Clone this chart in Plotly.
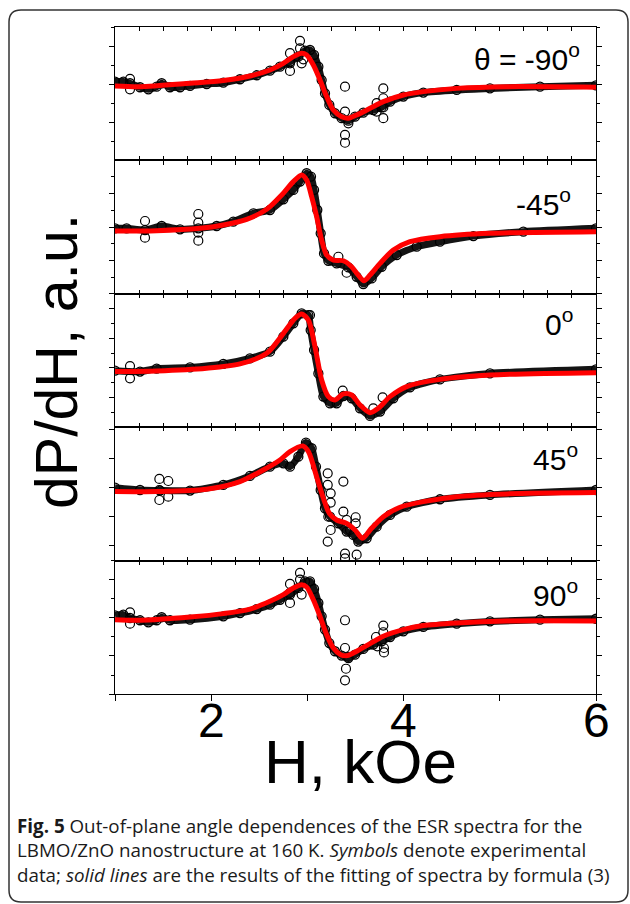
import plotly.graph_objects as go

W, HP = 630, 904

# ---------------- text ----------------
panel_labels = ["θ = -90<sup>o</sup>", "-45<sup>o</sup>", "0<sup>o</sup>", "45<sup>o</sup>", "90<sup>o</sup>"]
x_tickvals = [1, 2, 3, 4, 5, 6]
x_label_vals = [2, 4, 6]
x_label_text = ["2", "4", "6"]
x_title = "H, kOe"
y_title = "dP/dH, a.u."
caption_lines = [
    "<b>Fig. 5</b> Out-of-plane angle dependences of the ESR spectra for the",
    "LBMO/ZnO nanostructure at 160 K. <i>Symbols</i> denote experimental",
    "data; <i>solid lines</i> are the results of the fitting of spectra by formula (3)",
]

# ---------------- panel 1 : theta = -90 ----------------
p1_fit_h = [1.000, 1.260, 1.780, 2.126, 2.403, 2.611, 2.750, 2.854, 2.940, 2.992, 3.062, 3.131,
            3.200, 3.270, 3.356, 3.426, 3.512, 3.651, 3.789, 3.997, 4.205, 4.552, 5.071, 6.000]
p1_fit_y = [-0.05, -0.09, 0.09, 0.23, 0.47, 0.79, 1.14, 1.49, 1.67, 1.58, 1.05, 0.26,
            -0.61, -1.32, -1.67, -1.75, -1.58, -1.23, -0.88, -0.53, -0.35, -0.18, -0.09, -0.12]
p1_exp_h = [1.000, 1.087, 1.156, 1.260, 1.347, 1.433, 1.485, 1.572, 1.676, 1.780, 1.953, 2.126,
            2.299, 2.473, 2.611, 2.715, 2.819, 2.906, 2.975, 3.027, 3.069, 3.114, 3.148, 3.183,
            3.228, 3.287, 3.356, 3.426, 3.495, 3.581, 3.685, 3.772, 3.859, 3.997, 4.205, 4.552,
            4.898, 5.418, 6.000]
p1_exp_y = [0.18, 0.18, 0.09, -0.12, -0.23, -0.09, 0.09, -0.12, -0.12, -0.05, 0.05, 0.12,
            0.30, 0.51, 0.75, 0.96, 1.23, 1.49, 1.81, 1.84, 1.58, 0.96, 0.26, -0.44,
            -1.05, -1.49, -1.75, -1.88, -1.67, -1.46, -1.32, -1.18, -0.88, -0.61, -0.40, -0.26,
            -0.18, -0.09, -0.02]
p1_out_h = [1.156, 1.156, 2.819, 2.819, 2.819, 2.923, 2.923, 2.940, 2.958, 3.391, 3.391,
            3.426, 3.391, 3.391, 3.720, 3.720, 3.789, 3.789, 3.789, 3.789]
p1_out_y = [0.32, -0.23, 1.67, 1.14, 0.74, 2.32, 1.93, 1.14, 1.35, -0.09, -1.40,
            -2.02, -2.63, -3.04, -0.96, -1.40, -0.18, -0.70, -1.18, -1.75]

# ---------------- panel 2 : -45 ----------------
p2_fit_h = [1.000, 1.433, 1.884, 2.126, 2.369, 2.577, 2.733, 2.854, 2.940, 2.992, 3.044, 3.096,
            3.148, 3.200, 3.270, 3.374, 3.460, 3.529, 3.588, 3.651, 3.755, 3.893, 4.066, 4.378,
            4.898, 6.000]
p2_fit_y = [-0.24, -0.22, -0.08, 0.12, 0.46, 1.06, 1.92, 2.72, 3.12, 2.82, 1.82, 0.62,
            -0.78, -1.68, -1.98, -2.02, -2.38, -2.88, -3.22, -2.88, -2.18, -1.38, -0.88, -0.58,
            -0.38, -0.28]
p2_exp_h = [1.000, 1.121, 1.312, 1.485, 1.676, 1.866, 2.057, 2.230, 2.438, 2.611, 2.750, 2.854,
            2.923, 2.992, 3.037, 3.069, 3.103, 3.138, 3.173, 3.218, 3.304, 3.426, 3.512, 3.581,
            3.668, 3.772, 3.928, 4.136, 4.378, 4.725, 5.245, 6.000]
p2_exp_y = [-0.08, -0.08, -0.18, 0.06, -0.14, -0.08, 0.06, 0.32, 0.82, 1.02, 1.66, 2.22,
            2.72, 3.22, 3.02, 2.22, 1.02, -0.38, -1.58, -2.02, -2.18, -2.42, -2.98, -3.42,
            -3.08, -2.38, -1.68, -1.18, -0.88, -0.54, -0.28, -0.08]
p2_out_h = [1.312, 1.312, 1.866, 1.866, 1.866, 1.866, 3.322, 3.408]
p2_out_y = [0.36, -0.64, 0.78, 0.26, -0.34, -0.82, -1.78, -2.74]

# ---------------- panel 3 : 0 ----------------
p3_fit_h = [1.000, 1.433, 1.953, 2.299, 2.577, 2.750, 2.871, 2.940, 3.010, 3.079, 3.148, 3.218,
            3.287, 3.374, 3.460, 3.547, 3.651, 3.737, 3.859, 4.032, 4.378, 4.898, 6.000]
p3_fit_y = [-0.24, -0.20, -0.02, 0.27, 0.98, 2.31, 3.31, 3.60, 3.20, 1.42, -0.80, -1.91,
            -2.13, -1.73, -1.80, -2.47, -2.98, -2.69, -1.91, -1.24, -0.76, -0.47, -0.31]
p3_exp_h = [1.000, 1.260, 1.433, 1.780, 2.126, 2.403, 2.611, 2.750, 2.854, 2.940, 3.010, 3.034,
            3.069, 3.114, 3.166, 3.235, 3.304, 3.374, 3.460, 3.547, 3.651, 3.755, 3.893, 4.066,
            4.378, 4.898, 6.000]
p3_exp_y = [-0.18, -0.24, -0.04, 0.04, 0.27, 0.64, 1.09, 2.09, 2.98, 3.64, 3.53, 2.53,
            1.20, -0.36, -1.91, -2.36, -2.36, -1.87, -2.02, -2.69, -3.20, -2.91, -2.02, -1.29,
            -0.76, -0.36, -0.09]
p3_out_h = [1.156, 1.156, 3.027, 3.367, 3.685, 3.782]
p3_out_y = [0.13, -0.69, 3.53, -1.51, -2.69, -1.96]

# ---------------- panel 4 : 45 ----------------
p4_fit_h = [1.000, 1.433, 1.953, 2.299, 2.542, 2.715, 2.819, 2.951, 3.010, 3.096, 3.166, 3.228,
            3.304, 3.408, 3.495, 3.574, 3.651, 3.789, 3.963, 4.205, 4.552, 5.071, 6.000]
p4_fit_y = [-0.25, -0.25, -0.09, 0.44, 1.24, 1.93, 2.51, 2.90, 2.51, 0.78, -0.71, -1.75,
            -2.21, -2.44, -2.90, -3.47, -2.90, -1.98, -1.33, -0.94, -0.60, -0.41, -0.32]
p4_exp_h = [1.000, 1.260, 1.468, 1.780, 2.126, 2.403, 2.611, 2.750, 2.819, 2.906, 2.985, 3.044,
            3.089, 3.138, 3.183, 3.235, 3.322, 3.408, 3.477, 3.529, 3.616, 3.720, 3.859, 4.032,
            4.378, 4.898, 6.000]
p4_exp_y = [0.02, -0.14, -0.18, -0.18, 0.21, 0.83, 1.47, 1.70, 1.47, 2.16, 3.13, 2.74,
            1.47, -0.14, -1.40, -1.98, -2.44, -3.01, -3.24, -3.70, -3.47, -2.67, -1.86, -1.29,
            -0.78, -0.48, -0.14]
p4_out_h = [1.461, 1.554, 1.461, 1.554, 1.461, 3.211, 3.211, 3.242, 3.242, 3.218, 3.242, 3.211,
            3.374, 3.374, 3.408, 3.443, 3.502, 3.502, 3.391, 3.512, 3.391]
p4_out_y = [0.62, 0.48, -0.83, -0.60, -0.14, 1.01, 0.21, -0.37, -1.01, -1.98, -2.90, -3.70,
            0.44, -1.63, -2.21, -2.90, -2.02, -2.44, -4.53, -4.60, -4.85]

# ---------------- panel 5 : 90 ----------------
p5_fit_h = [1.000, 1.260, 1.780, 2.126, 2.403, 2.611, 2.750, 2.854, 2.940, 2.992, 3.062, 3.131,
            3.200, 3.270, 3.346, 3.415, 3.512, 3.651, 3.789, 3.997, 4.205, 4.552, 5.071, 6.000]
p5_fit_y = [-0.09, -0.12, 0.05, 0.23, 0.47, 0.88, 1.23, 1.58, 1.75, 1.63, 0.96, 0.09,
            -0.88, -1.58, -1.93, -1.98, -1.75, -1.35, -0.96, -0.61, -0.40, -0.26, -0.16, -0.16]
p5_exp_h = [1.000, 1.087, 1.156, 1.260, 1.347, 1.433, 1.485, 1.572, 1.780, 2.126, 2.299, 2.473,
            2.611, 2.715, 2.819, 2.906, 2.975, 3.027, 3.069, 3.114, 3.148, 3.183, 3.228, 3.287,
            3.356, 3.426, 3.495, 3.581, 3.685, 3.772, 3.859, 3.997, 4.205, 4.552, 4.898, 5.418,
            6.000]
p5_exp_y = [0.14, 0.18, 0.00, -0.12, -0.23, -0.12, 0.04, -0.12, -0.09, 0.09, 0.26, 0.47,
            0.70, 0.96, 1.23, 1.58, 1.93, 1.93, 1.53, 0.79, 0.09, -0.61, -1.32, -1.75,
            -1.98, -2.11, -1.93, -1.63, -1.40, -1.23, -1.00, -0.70, -0.47, -0.30, -0.18, -0.09,
            -0.04]
p5_out_h = [1.156, 1.156, 2.819, 2.819, 2.819, 2.923, 2.923, 2.940, 3.391, 3.391, 3.426, 3.401,
            3.391, 3.713, 3.727, 3.789, 3.789, 3.796, 3.796]
p5_out_y = [0.30, -0.30, 1.79, 1.32, 0.79, 2.37, 2.02, 1.23, -0.12, -1.58, -2.05, -2.67,
            -3.28, -1.00, -1.49, -0.40, -0.75, -1.58, -1.81]

panels = [
    (p1_fit_h, p1_fit_y, p1_exp_h, p1_exp_y, p1_out_h, p1_out_y),
    (p2_fit_h, p2_fit_y, p2_exp_h, p2_exp_y, p2_out_h, p2_out_y),
    (p3_fit_h, p3_fit_y, p3_exp_h, p3_exp_y, p3_out_h, p3_out_y),
    (p4_fit_h, p4_fit_y, p4_exp_h, p4_exp_y, p4_out_h, p4_out_y),
    (p5_fit_h, p5_fit_y, p5_exp_h, p5_exp_y, p5_out_h, p5_out_y),
]

# ---------------- geometry / style ----------------
edges_px = [27, 160.4, 293.8, 427.2, 560.6, 694]
y_ranges = [[-3.97, 3.05], [-4.0, 3.99], [-3.95, 4.95], [-5.01, 4.19], [-4.0, 3.02]]
use_minor = [True, True, True, False, True]
label_pos = [(582, 57), (573, 202), (575, 322), (580, 457), (580, 593)]
X0, X1 = 115, 596
AX_FONT = "Liberation Sans, Arial, sans-serif"


def px(x):
    return x / W


def py(y):
    return 1 - y / HP


fig = go.Figure()
layout = dict(
    width=W, height=HP,
    margin=dict(l=0, r=0, t=0, b=0),
    paper_bgcolor="white", plot_bgcolor="white",
    showlegend=False,
)

for i, (fh, fy, eh, ey, oh, oy) in enumerate(panels):
    n = i + 1
    xa = "x" if n == 1 else f"x{n}"
    ya = "y" if n == 1 else f"y{n}"
    fig.add_trace(go.Scatter(
        x=eh, y=ey, xaxis=xa, yaxis=ya, mode="lines+markers",
        line=dict(color="#141414", width=7, shape="spline", smoothing=0.6),
        marker=dict(symbol="circle-open", size=9, color="black", line=dict(width=1.3)),
        hoverinfo="skip"))
    fig.add_trace(go.Scatter(
        x=oh, y=oy, xaxis=xa, yaxis=ya, mode="markers",
        marker=dict(symbol="circle-open", size=9, color="black", line=dict(width=1.2)),
        hoverinfo="skip"))
    fig.add_trace(go.Scatter(
        x=fh, y=fy, xaxis=xa, yaxis=ya, mode="lines",
        line=dict(color="#ff0000", width=5, shape="spline", smoothing=0.8),
        hoverinfo="skip"))

    top, bot = edges_px[i], edges_px[i + 1]
    xkey = "xaxis" if n == 1 else f"xaxis{n}"
    ykey = "yaxis" if n == 1 else f"yaxis{n}"
    xdict = dict(domain=[px(X0), px(X1)], range=[1, 6], anchor=ya,
                 showline=True, linecolor="black", linewidth=1.2,
                 showgrid=False, zeroline=False, fixedrange=True, showticklabels=False)
    if n < 5:
        xdict.update(mirror="ticks", ticks="inside", tick0=1, dtick=0.25, ticklen=4,
                     tickcolor="black", tickwidth=1)
    else:
        xdict.update(mirror=False, ticks="outside", tickvals=x_tickvals,
                     ticklen=6, tickcolor="black", tickwidth=1.2)
    layout[xkey] = xdict
    ydict = dict(domain=[py(bot), py(top)], range=y_ranges[i], anchor=xa,
                 showline=True, linecolor="black", linewidth=1.2, mirror="ticks",
                 ticks="outside", tick0=0, dtick=2, ticklen=5, tickcolor="black", tickwidth=1,
                 showticklabels=False, showgrid=False, zeroline=False, fixedrange=True)
    if use_minor[i]:
        ydict["minor"] = dict(ticks="outside", dtick=1, tick0=0, ticklen=3,
                              tickcolor="black", tickwidth=1, showgrid=False)
    layout[ykey] = ydict

# top edge of last panel with inside minor ticks
layout["xaxis6"] = dict(overlaying="x5", anchor="y5", side="top", range=[1, 6],
                        showline=True, linecolor="black", linewidth=1.2,
                        ticks="inside", tick0=1, dtick=0.25, ticklen=4, tickcolor="black",
                        showticklabels=False, showgrid=False, zeroline=False, fixedrange=True)
fig.add_trace(go.Scatter(x=[1, 6], y=[0, 0], xaxis="x6", yaxis="y5", mode="lines",
                         line=dict(width=0), hoverinfo="skip"))

annotations = []
for v, t in zip(x_label_vals, x_label_text):
    annotations.append(dict(x=v, y=py(720), xref="x5", yref="paper", text=t,
                            xanchor="center", yanchor="middle", showarrow=False,
                            font=dict(family=AX_FONT, size=48, color="black")))
for (lx, ly), txt in zip(label_pos, panel_labels):
    annotations.append(dict(x=px(lx), y=py(ly), xref="paper", yref="paper", text=txt,
                            xanchor="right", yanchor="middle", showarrow=False,
                            font=dict(family=AX_FONT, size=30, color="black")))
annotations.append(dict(x=px(360), y=py(761), xref="paper", yref="paper", text=x_title,
                        xanchor="center", yanchor="middle", showarrow=False,
                        font=dict(family=AX_FONT, size=62, color="black")))
annotations.append(dict(x=px(57), y=py(362), xref="paper", yref="paper", text=y_title,
                        textangle=-90, xanchor="center", yanchor="middle", showarrow=False,
                        font=dict(family=AX_FONT, size=59, color="black")))
annotations.append(dict(x=px(15), y=py(850), xref="paper", yref="paper",
                        text="<br>".join(caption_lines), align="left",
                        xanchor="left", yanchor="middle", showarrow=False,
                        font=dict(family="Open Sans, Noto Sans, sans-serif", size=18.8,
                                  color="#1a1a1a")))
layout["annotations"] = annotations

# rounded frame
L, T, R, B, r = 9, 10, 628, 902, 12
frame = (f"M {px(L)},{py(B - r)} L {px(L)},{py(T + r)} Q {px(L)},{py(T)} {px(L + r)},{py(T)} "
         f"L {px(R - r)},{py(T)} Q {px(R)},{py(T)} {px(R)},{py(T + r)} "
         f"L {px(R)},{py(B - r)} Q {px(R)},{py(B)} {px(R - r)},{py(B)} "
         f"L {px(L + r)},{py(B)} Q {px(L)},{py(B)} {px(L)},{py(B - r)} Z")
layout["shapes"] = [dict(type="path", path=frame, xref="paper", yref="paper",
                         line=dict(color="#333333", width=1.5), fillcolor="rgba(0,0,0,0)")]

fig.update_layout(**layout)
fig.write_html(
    "out.html",
    config={"displayModeBar": False},
    post_script=("document.body.style.margin='0';document.body.style.padding='0';"
                 "document.body.style.overflow='hidden';"
                 "document.documentElement.style.overflow='hidden';"),
)
